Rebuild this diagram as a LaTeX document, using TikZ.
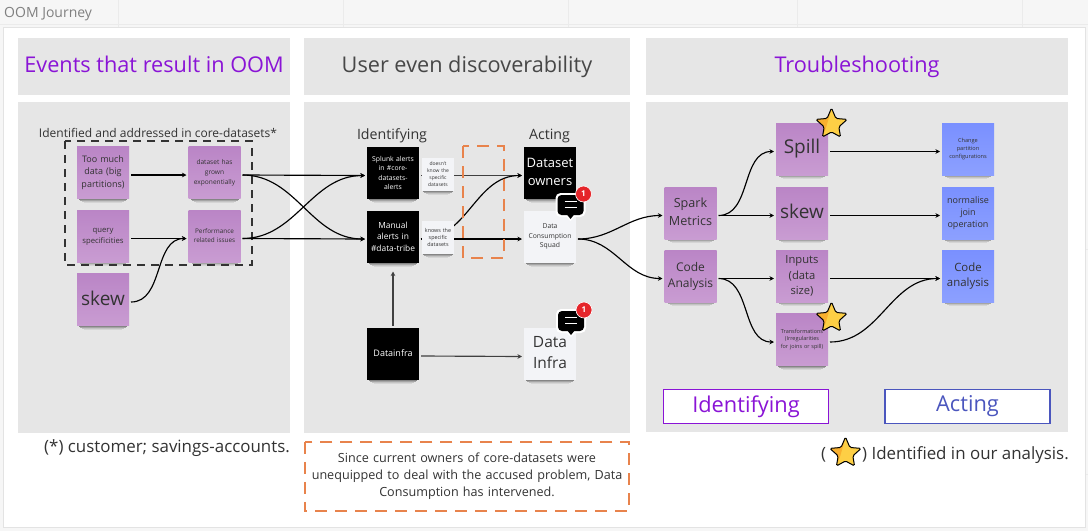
\documentclass[tikz,border=0pt]{standalone}
\usepackage{fontspec}
\setmainfont{Open Sans}
\usetikzlibrary{shapes.geometric,arrows.meta}
\definecolor{pagebg}{HTML}{F6F6F6}
\definecolor{panelgray}{HTML}{E6E6E6}
\definecolor{purpletop}{HTML}{BA85C6}
\definecolor{purplebot}{HTML}{C99CD2}
\definecolor{bluetop}{HTML}{7A90FF}
\definecolor{bluebot}{HTML}{8CA0FF}
\definecolor{whitetop}{HTML}{F3F4F7}
\definecolor{headpurple}{HTML}{8A14D6}
\definecolor{headblue}{HTML}{4B56BE}
\definecolor{orangedash}{HTML}{E8834C}
\definecolor{textdark}{HTML}{333333}
\definecolor{stardark}{HTML}{F9B02E}
\definecolor{starlight}{HTML}{FDCF45}
\definecolor{badgered}{HTML}{E5252A}
\newcommand\fsz[1]{\pgfmathsetmacro\fszl{#1*1.36}\fontsize{#1}{\fszl}\selectfont}
\newcommand\up[2]{\raisebox{#1}{\begin{tabular}{@{}c@{}}#2\end{tabular}}}
\tikzset{
  note/.style={minimum width=52pt,minimum height=52pt,text width=52pt,align=center,inner sep=0pt,outer sep=2pt,text=textdark},
  purplenote/.style={note,top color=purpletop,bottom color=purplebot},
  bluenote/.style={note,top color=bluetop,bottom color=bluebot},
  blacknote/.style={note,fill=black,text=white},
  whitenote/.style={note,fill=whitetop},
  smallnote/.style={fill=whitetop,minimum width=32pt,minimum height=33pt,text width=32pt,align=center,inner sep=0pt,text=textdark},
  panel/.style={fill=panelgray},
  headtext/.style={panel,inner sep=0pt,minimum height=57pt,font=\fsz{21.7},text height=16pt,text depth=5pt},
  conn/.style={line width=1.15pt,black,-{Stealth[length=4.5pt,width=4.5pt]}},
  dconn/.style={line width=1.15pt,black!75,-{Stealth[length=4.5pt,width=4.5pt]}},
  curve/.style={out=0,in=180,looseness=1},
  orangebox/.style={draw=orangedash,line width=2.2pt,dash pattern=on 12pt off 8pt},
  labelbox/.style={fill=white,line width=1.6pt,minimum width=165pt,minimum height=34pt,inner sep=0pt},
  basetext/.style={inner sep=0pt,text=textdark},
}
\newcommand\softshadow[3]{%
  \fill[black,opacity=.42] (#1-#3,#2) rectangle (#1+#3,#2+1);
  \fill[black,opacity=.28] (#1-#3+1,#2+1) rectangle (#1+#3-1,#2+2);
  \fill[black,opacity=.15] (#1-#3+3,#2+2) rectangle (#1+#3-3,#2+3);
  \fill[black,opacity=.07] (#1-#3+5,#2+3) rectangle (#1+#3-5,#2+4);
}
\newcommand\sticky[6]{%
  \softshadow{#2}{#3+26}{24}
  \node[#4,font=\fsz{#5}] (#1) at (#2,#3) {#6};
  \coordinate (#1R) at ([yshift=-2.5pt]#1.east);
  \coordinate (#1L) at ([yshift=-2.5pt]#1.west);
}
\newcommand\starmark[3]{%
  \begin{scope}[shift={(#1,#2)},yscale=-1,scale=#3]
    \fill[starlight,rounded corners=1.5pt] (90:15)--(126:6.8)--(162:15)--(198:7)--(234:14)--(270:6.8)--(306:14)--(342:7)--(18:15)--(54:6.8)--cycle;
    \fill[stardark,rounded corners=1pt] (90:15)--(126:6.8)--(162:15)--(198:7)--(234:14)--(-5,-3)--(-3,4)--cycle;
    \draw[black,line width=1pt,rounded corners=1.5pt] (90:15)--(126:6.8)--(162:15)--(198:7)--(234:14)--(270:6.8)--(306:14)--(342:7)--(18:15)--(54:6.8)--cycle;
  \end{scope}%
}
\newcommand\bubble[3]{%
  \fill[white,rounded corners=5pt] (#1-15,#2-12) rectangle (#1+15,#2+12);
  \fill[white] (#1-5,#2+11) -- (#1+5,#2+11) -- (#1,#2+16) -- cycle;
  \fill[black,rounded corners=4pt] (#1-13,#2-10) rectangle (#1+13,#2+10);
  \fill[black] (#1-4,#2+9) -- (#1+4,#2+9) -- (#1,#2+14) -- cycle;
  \draw[white,line width=1.7pt] (#1-6,#2-3.5) -- (#1+6,#2-3.5) (#1-6,#2+2.5) -- (#1+6,#2+2.5);
  \node[circle,fill=badgered,draw=white,line width=.6pt,minimum size=16pt,inner sep=0pt,text=white,font=\bfseries\fsz{8}] (#3) at (#1+13,#2-11) {1};
}
\begin{document}
\begin{tikzpicture}[x=1pt,y=-1pt]
\useasboundingbox (0,0) rectangle (1088,531);
\fill[pagebg] (0,0) rectangle (1088,531);
\draw[black!8,line width=.7pt] (118,0)--(118,28) (343,0)--(343,28) (568,0)--(568,28) (797,0)--(797,28) (1022,0)--(1022,28)
  (0,24)--(1088,24) (1085,249)--(1088,249) (1085,474)--(1088,474);
\node[anchor=west,text=black!50,font=\fsz{14},inner sep=0pt] (title) at (4,14) {OOM Journey};
\fill[black!11] (3,27) rectangle (1085.5,528);
\fill[white] (4,28) rectangle (1084.5,527);
% panels
\node[headtext,minimum width=272pt,text=headpurple] (head1) at (154,66.5) {Events that result in OOM};
\node[headtext,minimum width=326pt,text=black!72] (head2) at (467,66.5) {User even discoverability};
\node[headtext,minimum width=422pt,text=headpurple] (head3) at (857,66.5) {Troubleshooting};
\fill[panel] (18,102) rectangle (290,433);
\fill[panel] (304,102) rectangle (630,433);
\fill[panel] (646,102) rectangle (1068,432);
% column labels
\node[basetext,anchor=base,font=\fsz{12}] (core) at (158,137) {Identified and addressed in core-datasets*};
\node[basetext,anchor=base,font=\fsz{14.2}] (ident) at (392,139) {Identifying};
\node[basetext,anchor=base,font=\fsz{14.2}] (act) at (549.5,139) {Acting};
% stickies column 1
\sticky{much}{103}{172.5}{purplenote}{9}{\up{1.5pt}{Too much\\data (big\\partitions)}}
\sticky{grown}{214.5}{172.5}{purplenote}{6.6}{dataset has\\[1pt]grown\\[1pt]exponentially}
\sticky{query}{103}{236}{purplenote}{7.7}{\up{2pt}{query\\specificities}}
\sticky{perf}{214.5}{236}{purplenote}{6.4}{\up{2pt}{Performance\\related issues}}
\sticky{skewa}{103}{299.5}{purplenote}{19}{\raisebox{2.5pt}{skew}}
\draw[draw=black!80,line width=1.6pt,dash pattern=on 8pt off 6pt] (65,141) rectangle (252,265);
% stickies column 2
\sticky{splunk}{393}{173}{blacknote}{6.8}{Splunk alerts\\in \#core-\\datasets-\\alerts}
\sticky{manual}{393}{236.5}{blacknote}{8.4}{Manual\\alerts in\\\#data-tribe}
\sticky{dinfra}{393}{353.5}{blacknote}{9}{Datainfra}
\sticky{owners}{550}{173}{blacknote}{13}{\up{2.5pt}{Dataset\\owners}}
\sticky{squad}{550}{236.5}{whitenote}{6.8}{Data\\Consumption\\Squad}
\sticky{infra}{550}{354}{whitenote}{15.5}{\up{2.5pt}{Data\\Infra}}
% stickies column 3
\sticky{spark}{690.5}{213}{purplenote}{12.6}{\up{2.5pt}{Spark\\Metrics}}
\sticky{code}{690.5}{276}{purplenote}{12}{\up{1pt}{Code\\Analysis}}
\sticky{spill}{802}{149}{purplenote}{19}{\raisebox{2.5pt}{Spill}}
\sticky{skewb}{802}{213}{purplenote}{19}{\raisebox{2.5pt}{skew}}
\sticky{inputs}{802}{276}{purplenote}{11.2}{\up{2pt}{Inputs\\(data\\size)}}
\sticky{transf}{802}{339.5}{purplenote}{5.5}{Transformations\\(Irregularities\\for joins or spill)}
\sticky{change}{968}{149}{bluenote}{5.6}{\up{1.5pt}{Change\\partition\\configurations}}
\sticky{normal}{968}{213}{bluenote}{9}{\up{1pt}{normalise\\join\\operation}}
\sticky{analysis}{968}{276}{bluenote}{11.4}{\up{1.5pt}{Code\\analysis}}
% connectors
\draw[conn] (muchR) -- (grownL);
\draw[conn] (queryR) -- (perfL);
\draw[conn] (skewaR) to[curve] (perfL);
\draw[conn] (grownR) -- (splunkL);
\draw[conn] (grownR) to[curve] (manualL);
\draw[conn] (perfR) to[curve] (splunkL);
\draw[conn] (perfR) -- (manualL);
\draw[dconn] (splunkR) -- (ownersL);
\draw[conn] (manualR) to[curve] (ownersL);
\draw[conn] (manualR) -- (squadL);
\draw[dconn] (dinfra.north) -- ([yshift=-7pt]manual.south);
\draw[dconn] (dinfraR) -- (infraL);
\draw[conn] (squadR) to[curve] (sparkL);
\draw[conn] (squadR) to[curve] (codeL);
\draw[conn] (sparkR) to[curve] (spillL);
\draw[conn] (sparkR) -- (skewbL);
\draw[conn] (codeR) -- (inputsL);
\draw[conn] (codeR) to[curve] (transfL);
\draw[conn] (spillR) -- (changeL);
\draw[conn] (skewbR) -- (normalL);
\draw[conn] (inputsR) -- (analysisL);
\draw[conn] (transfR) to[curve] (analysisL);
% small notes over connectors
\softshadow{438}{190.5}{15}
\softshadow{438}{254}{15}
\node[smallnote,font=\fsz{5}] (dontknow) at (438,174) {doesn't\\know the\\specific\\datasets};
\node[smallnote,font=\fsz{5.4}] (knows) at (438,237.5) {knows the\\specific\\datasets};
% orange dashed
\draw[orangebox] (463,146) rectangle (504,258);
% bubbles and stars
\bubble{570.5}{205}{badgea}
\bubble{571}{321}{badgeb}
\starmark{831.5}{124.5}{1.1}
\starmark{831.5}{318.5}{1.1}
% legend boxes
\node[labelbox,draw=headpurple,text=headpurple,font=\fsz{21.8}] (lident) at (746,406.5) {Identifying};
\node[labelbox,draw=headblue,text=headblue,font=\fsz{21.8}] (lact) at (967.5,406.5) {Acting};
% footnotes
\node[basetext,anchor=base west,font=\fsz{16.9}] (cust) at (44,452) {(*) customer; savings-accounts.};
\node[inner sep=0pt,minimum width=324pt,minimum height=69pt,text width=322pt,align=center,text=textdark,font=\fsz{12.6}] (since) at (467,476.5) {Since current owners of core-datasets were\\unequipped to deal with the accused problem, Data\\Consumption has intervened.};
\draw[orangebox,line width=2pt] (since.north west) rectangle (since.south east);
\starmark{845.5}{453.5}{1.1}
\node[basetext,anchor=base west,font=\fsz{16.9}] (lparen) at (821,459) {(};
\node[basetext,anchor=base west,font=\fsz{16.9}] (found) at (862,459) {) Identified in our analysis.};
\end{tikzpicture}
\end{document}
